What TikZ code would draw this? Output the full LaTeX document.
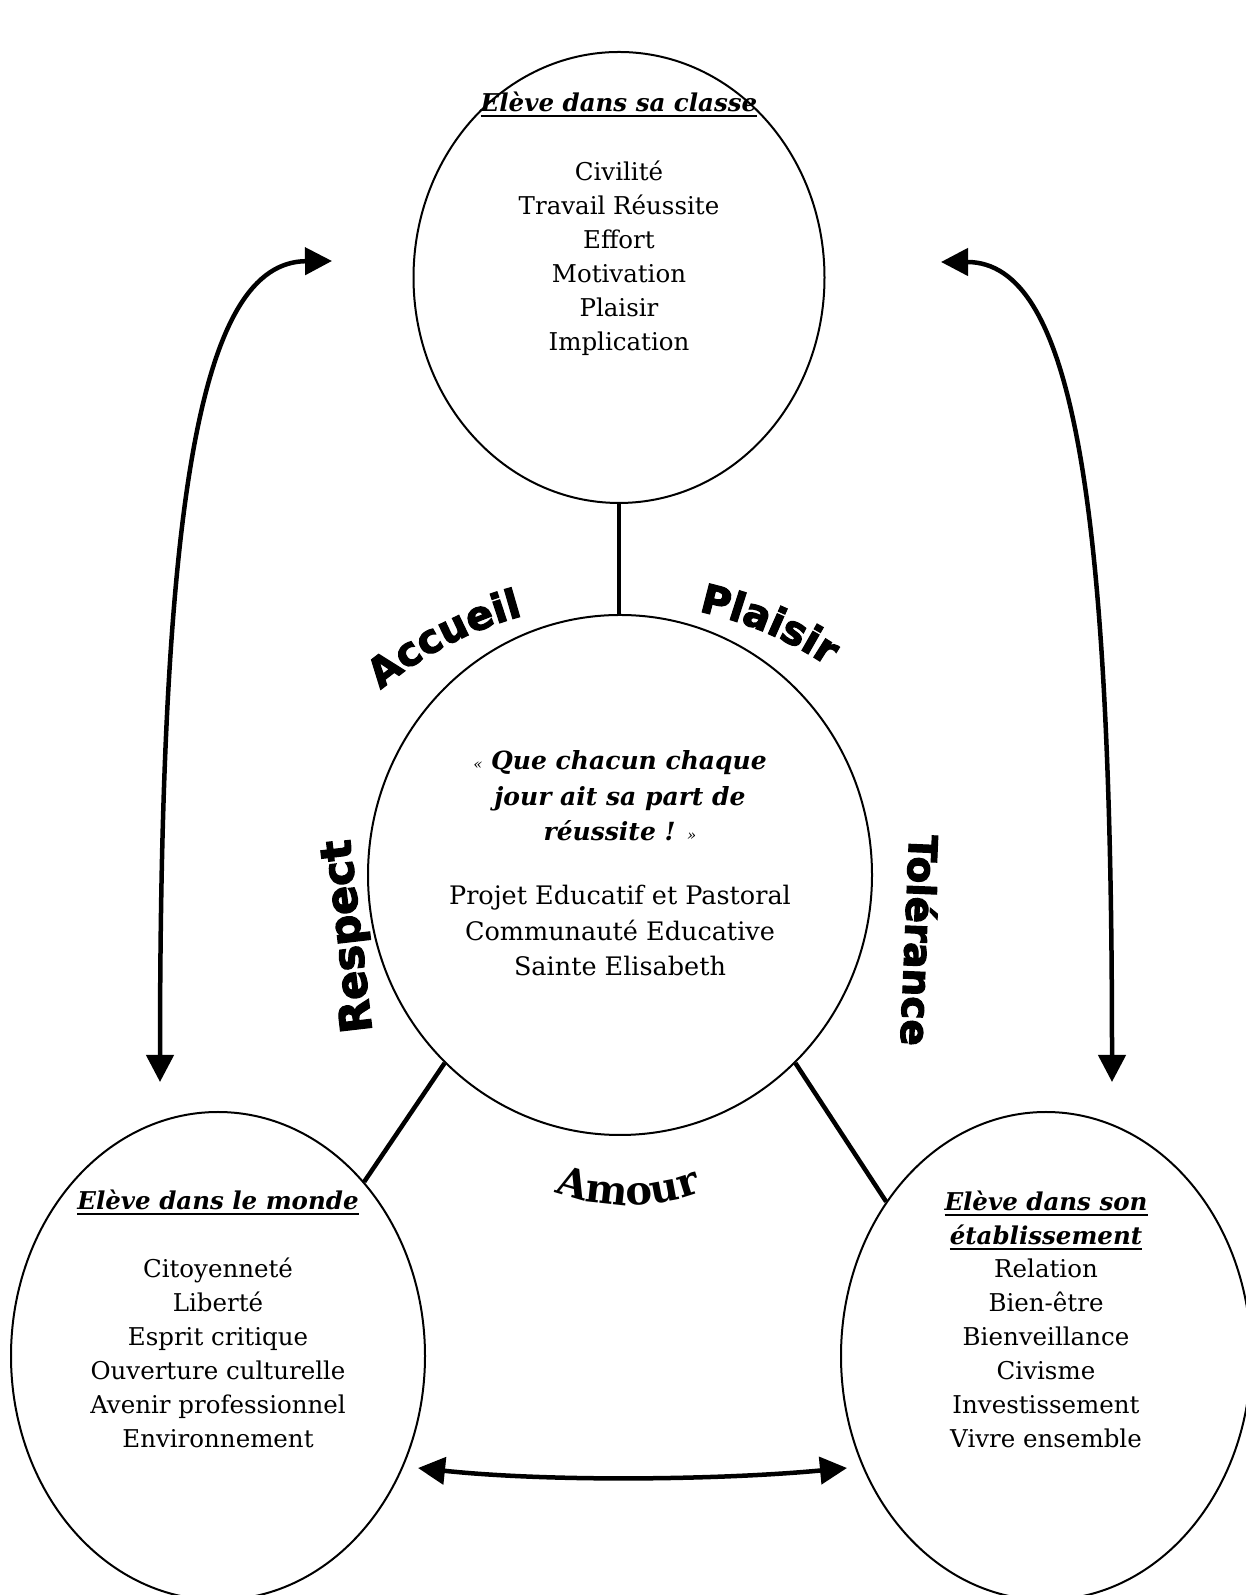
\documentclass[tikz,border=0pt]{standalone}
\usepackage{fontspec}
\setmainfont{DejaVu Serif}
\newfontfamily\wordfont{DejaVu Sans Bold}[FakeBold=3]
\usetikzlibrary{arrows.meta,shapes.geometric,decorations.text}

\newsavebox\headbox
\newcommand{\ulbox}[1]{\sbox\headbox{#1}\rlap{\rule[-5pt]{\wd\headbox}{2pt}}\usebox\headbox}
\newcommand{\listfont}{\fontsize{24.5}{34}\selectfont}
\newcommand{\wordstyle}{\wordfont\fontsize{40}{48}\selectfont}

\tikzset{
  bubble/.style={draw, ellipse, line width=2pt, inner sep=0pt},
  link/.style={line width=4.5pt},
  twoway/.style={line width=4.5pt,
    {Triangle[length=27pt,width=27pt]}-{Triangle[length=27pt,width=27pt]}},
  itemlist/.style={font=\listfont, align=center, anchor=base, inner sep=0pt},
  heading/.style={itemlist, font=\listfont\bfseries\itshape},
  bigword/.style={font=\wordfont, anchor=base, inner sep=0pt},
}

\begin{document}
\begin{tikzpicture}[x=1pt,y=1pt]
\useasboundingbox (0,0) rectangle (1245,1595); % page size

\node[bubble, minimum width=411pt, minimum height=451pt] (classe) at (619,1317.5) {};
\node[bubble, minimum width=504pt, minimum height=520pt] (projet) at (620,720) {};
\node[bubble, minimum width=414pt, minimum height=488pt] (monde) at (218,239) {};
\node[bubble, minimum width=410pt, minimum height=488pt] (etab) at (1046,239) {};

\draw[link] (classe.south) -- (classe.south |- projet.north);
\draw[link] (projet.227) -- (monde.50);
\draw[link] (projet.-47) -- (etab.136);

% free ends of the arrows
\coordinate (classeleft) at (332,1334);
\coordinate (mondetop) at (160,513);
\coordinate (classeright) at (941,1333);
\coordinate (etabtop) at (1112,513);
\coordinate (mondeside) at (418,127);
\coordinate (etabside) at (847,127);

\draw[twoway] (mondetop) .. controls (160,1095) and (200,1333) .. (classeleft);
\draw[twoway] (classeright) .. controls (1073,1333) and (1112,1095) .. (etabtop);
\draw[twoway] (mondeside) .. controls (550,113) and (720,115) .. (etabside);

% multi-line nodes sit on their last line
\node[heading] (classetitle) at (619,1483) {\ulbox{Elève dans sa classe}};
\node[itemlist] (classelist) at (619,1244)
  {Civilité\\Travail Réussite\\Effort\\Motivation\\Plaisir\\Implication};

\node[heading, font=\fontsize{25}{35.5}\selectfont\bfseries\itshape] (devise) at (620,754)
  {{\mdseries\fontsize{15}{15}\selectfont«}~Que chacun chaque\\jour ait sa part de\\réussite~! {\mdseries\fontsize{15}{15}\selectfont»}};
\node[itemlist, font=\fontsize{25.5}{35.5}\selectfont] (devisetext) at (620,619)
  {Projet Educatif et Pastoral\\Communauté Educative\\Sainte Elisabeth};

\node[heading] (mondetitle) at (218,385) {\ulbox{Elève dans le monde}};
\node[itemlist] (mondelist) at (218,147)
  {Citoyenneté\\Liberté\\Esprit critique\\Ouverture culturelle\\Avenir professionnel\\Environnement};

\node[heading] (etabtitle) at (1046,350) {\ulbox{Elève dans son}\\\ulbox{établissement}};
\node[itemlist] (etablist) at (1046,147)
  {Relation\\Bien-être\\Bienveillance\\Civisme\\Investissement\\Vivre ensemble};

% words round the middle
\coordinate (arch) at (620,619);
\path[decorate, decoration={text along path, text align=center,
    text={|\wordstyle|Accueil}}]
  (arch) ++(140:373) arc[start angle=140, end angle=95, radius=373];
\path[decorate, decoration={text along path, text align=center,
    text={|\wordstyle|Plaisir}}]
  (arch) ++(90:373) arc[start angle=90, end angle=44, radius=373];
\node[bigword, font=\wordfont\fontsize{43}{48}\selectfont, rotate=96.6] (respect) at (361,660) {Respect};
\node[bigword, font=\wordfont\fontsize{39}{48}\selectfont, rotate=-92.4] (tolerance) at (905,655) {Tolérance};
\coordinate (smile) at (628,600);
\path[decorate, decoration={text along path, text align=center,
    text={|\bfseries\fontsize{40}{44}\selectfont|Amour}}]
  (smile) ++(235:210) arc[start angle=235, end angle=305, radius=210];
\end{tikzpicture}
\end{document}
